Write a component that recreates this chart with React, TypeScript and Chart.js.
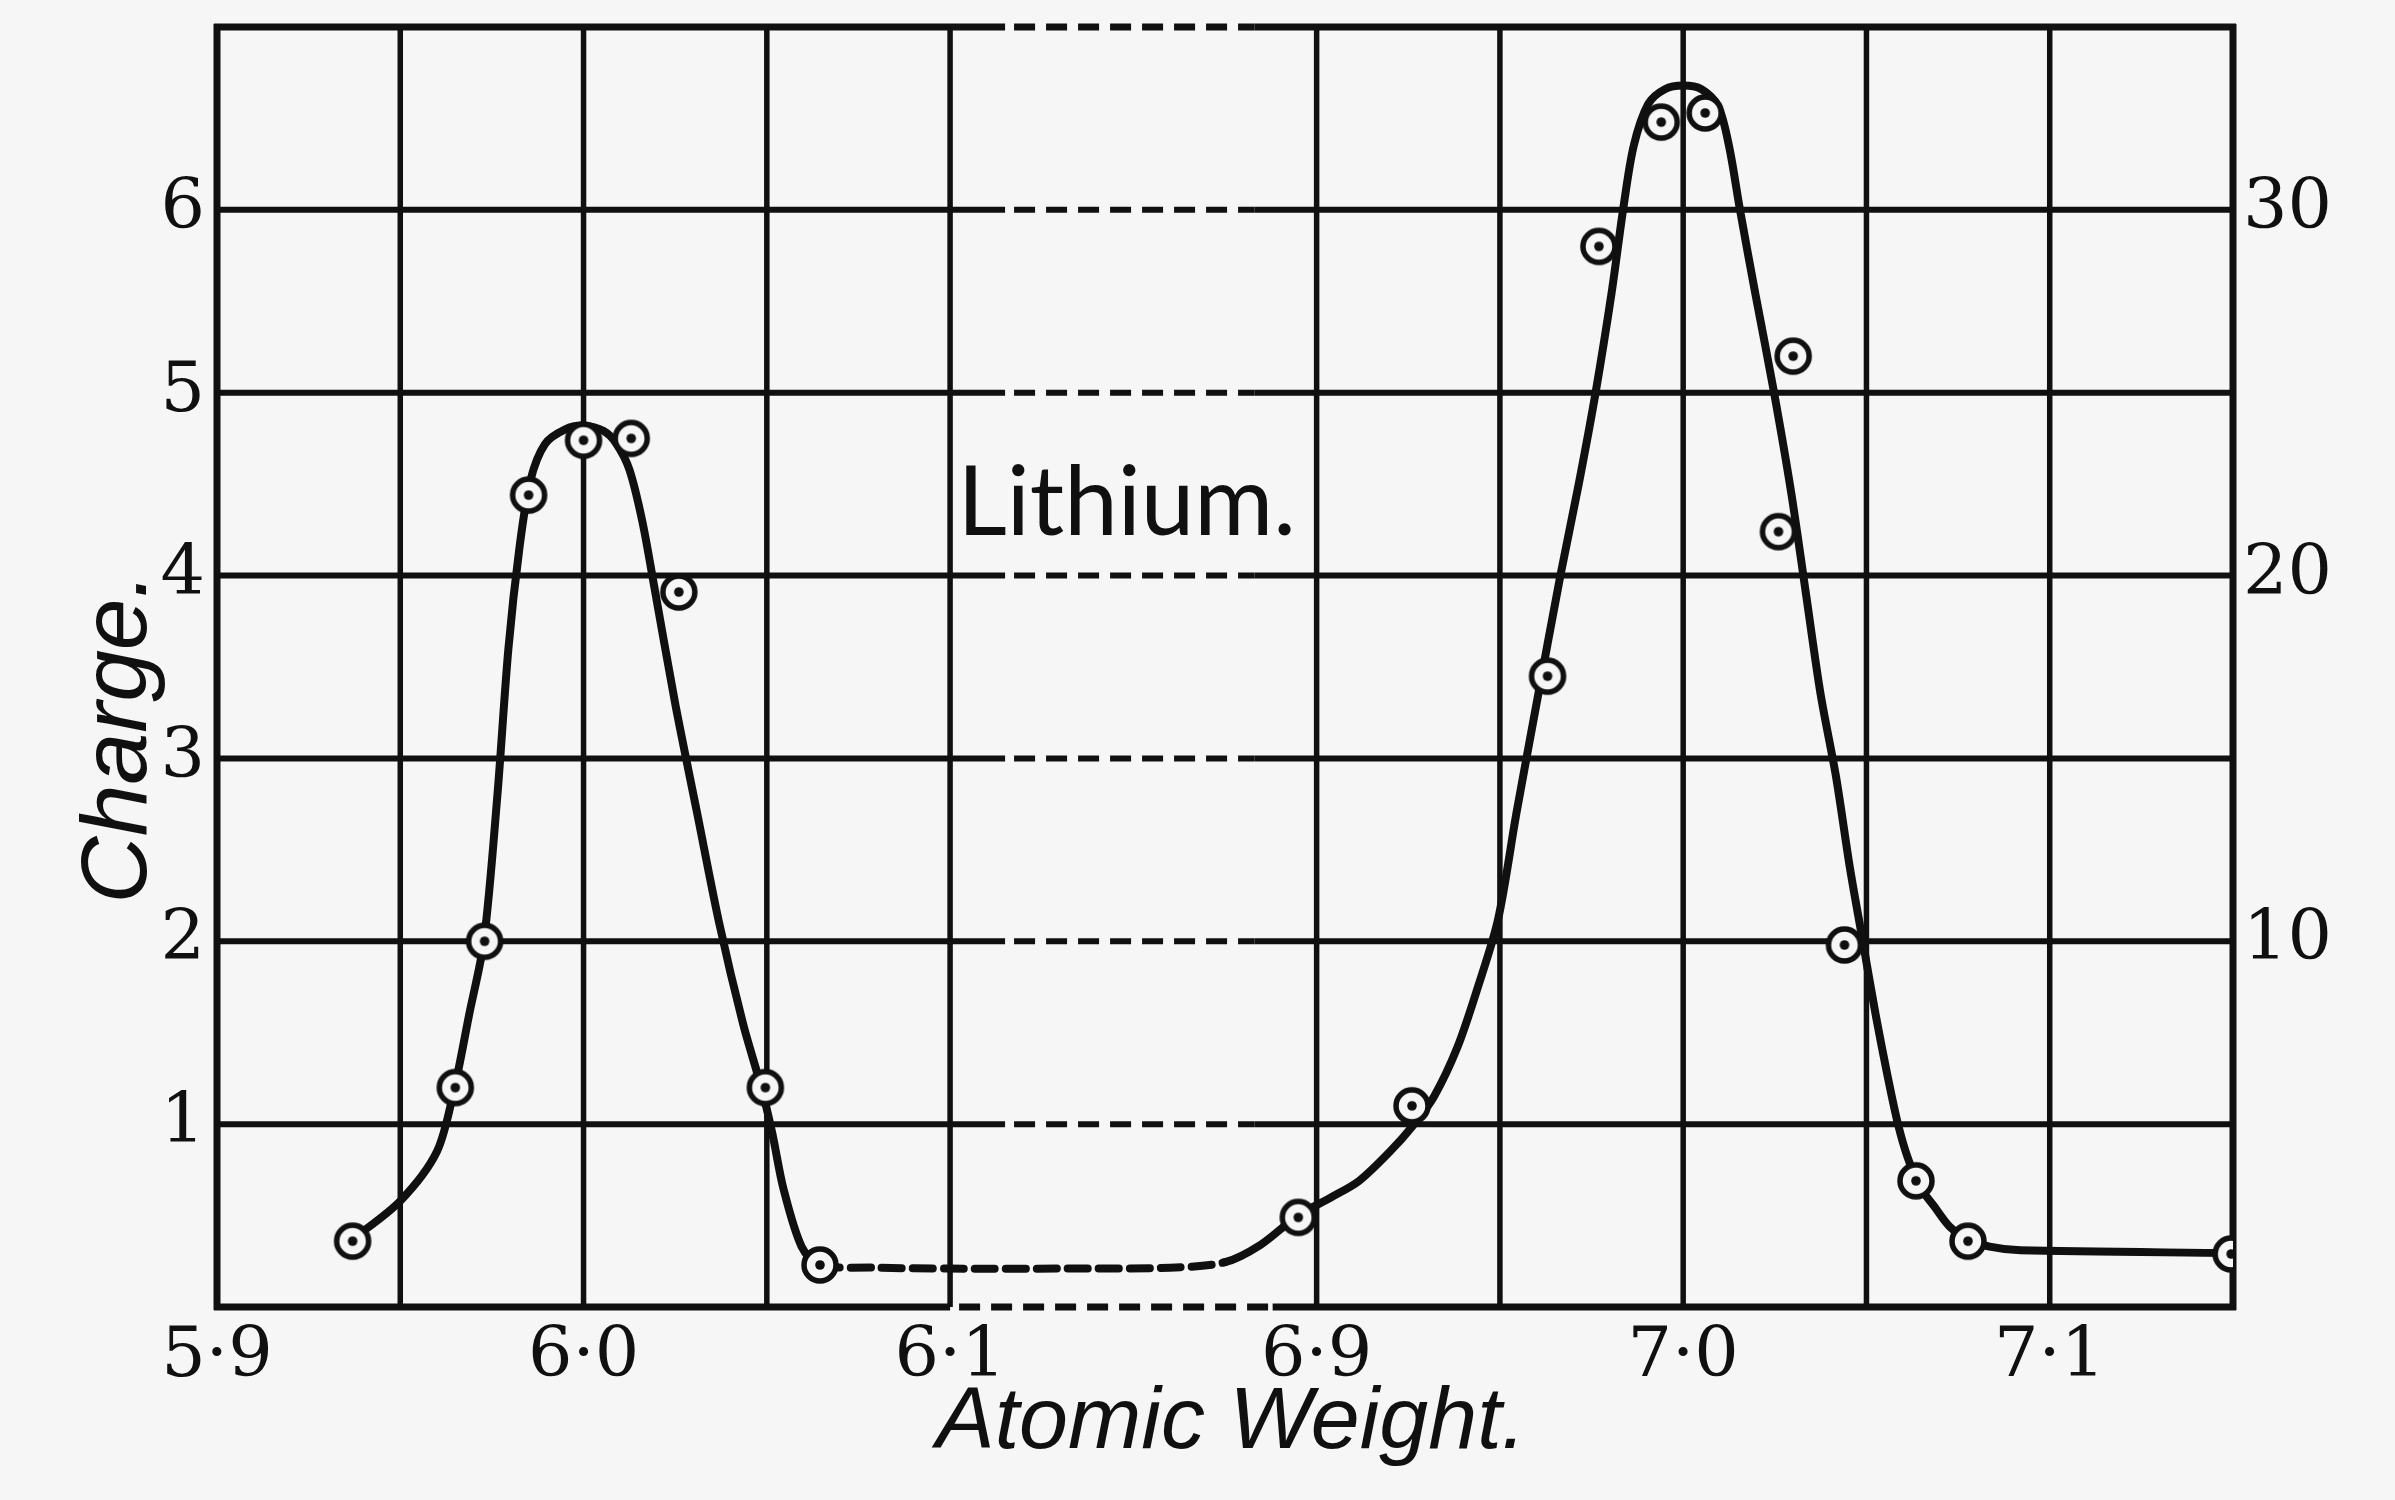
import React, { useEffect, useRef } from "react";
import { Chart, registerables } from "chart.js";

Chart.register(...registerables);

// ---- measured points (atomic weight, charge) ----
const POINT_WEIGHTS = [
  5.937, 5.965, 5.973, 5.985, 6.0, 6.013, 6.026, 6.0496, 6.0645,
  6.895, 6.926, 6.963, 6.977, 6.994, 7.006, 7.026, 7.03, 7.044, 7.0635, 7.0777, 7.1495,
];
const POINT_CHARGES = [
  0.36, 1.2, 2.0, 4.44, 4.74, 4.75, 3.91, 1.2, 0.23,
  0.49, 1.1, 3.45, 5.8, 6.48, 6.53, 4.24, 5.2, 1.98, 0.69, 0.36, 0.29,
];

// ---- traced curve (atomic weight, charge) ----
const CURVE_WEIGHTS = [
  5.937, 5.95, 5.96, 5.9648, 5.9688, 5.9728, 5.9765, 5.9795, 5.9825, 5.9855, 5.9895, 5.995, 6.0,
  6.0055, 6.009, 6.0125, 6.016, 6.0192, 6.025, 6.031, 6.037, 6.0435, 6.0485, 6.0515, 6.0545,
  6.0595, 6.0645, 6.08, 6.1, 6.13, 6.86, 6.875, 6.8847, 6.8949, 6.904, 6.9116, 6.92, 6.9262,
  6.932, 6.9384, 6.944, 6.9495, 6.9545, 6.96, 6.9665, 6.9715, 6.9761, 6.9805, 6.9836, 6.9865,
  6.9905, 6.995, 7.0, 7.005, 7.0095, 7.0125, 7.0155, 7.0197, 7.0248, 7.0295, 7.0335, 7.0375,
  7.0417, 7.0455, 7.049, 7.0525, 7.0559, 7.0586, 7.0612, 7.0645, 7.0685, 7.0727, 7.0777, 7.0836,
  7.092, 7.1495,
];
const CURVE_CHARGES = [
  0.37, 0.58, 0.85, 1.2, 1.6, 2.0, 2.8, 3.6, 4.15, 4.52, 4.72, 4.8, 4.82,
  4.79, 4.72, 4.58, 4.3, 3.95, 3.3, 2.7, 2.1, 1.55, 1.2, 0.95, 0.65,
  0.33, 0.23, 0.215, 0.21, 0.21, 0.215, 0.245, 0.34, 0.5, 0.6, 0.69, 0.85, 0.99,
  1.15, 1.42, 1.75, 2.12, 2.7, 3.3, 4.0, 4.5, 5.0, 5.55, 6.0, 6.35,
  6.58, 6.66, 6.68, 6.66, 6.57, 6.35, 6.0, 5.54, 5.0, 4.45, 3.9, 3.35,
  2.9, 2.4, 2.0, 1.6, 1.25, 1.0, 0.82, 0.66, 0.55, 0.44, 0.37, 0.33,
  0.31, 0.295,
];

// ---- axes ----
const X_TICK_VALUES = [5.9, 6.0, 6.1, 6.9, 7.0, 7.1];
const X_TICK_LABELS = ["5·9", "6·0", "6·1", "6·9", "7·0", "7·1"];
const X_GRID_VALUES = [5.9, 5.95, 6.0, 6.05, 6.1, 6.9, 6.95, 7.0, 7.05, 7.1, 7.15];
const LEFT_TICKS = [1, 2, 3, 4, 5, 6];
const LEFT_GRID = [0, 1, 2, 3, 4, 5, 6, 7];
const RIGHT_TICKS = [10, 20, 30];
const X_MIN = 5.9;
const X_MAX = 7.15;
const Y_MIN = 0;
const Y_MAX = 7;
const Y2_MAX = 35;

// axis break: 6.1 .. 6.9 is squeezed into 0.1 units
const BREAK_FROM = 6.1;
const BREAK_TO = 6.9;
const BREAK_WIDTH = 0.1;
const DASH_CURVE_FROM = 6.0645;
const DASH_CURVE_TO = 6.876;
const DASH_GRID_FROM = 6.115;
const DASH_GRID_TO = 6.883;

function toAxis(w: number): number {
  return w > (BREAK_FROM + BREAK_TO) / 2 ? w - (BREAK_TO - BREAK_FROM) + BREAK_WIDTH : w;
}

const INK = "#101010";
const PAPER = "#f6f6f6";
const TICK_FONT = { family: "'DejaVu Serif', serif", size: 70 };

function makeMarker(): HTMLCanvasElement {
  const c = document.createElement("canvas");
  c.width = 46;
  c.height = 46;
  const g = c.getContext("2d")!;
  g.beginPath();
  g.arc(23, 23, 16, 0, Math.PI * 2);
  g.fillStyle = PAPER;
  g.fill();
  g.lineWidth = 5.5;
  g.strokeStyle = INK;
  g.stroke();
  g.beginPath();
  g.arc(23, 23, 4.8, 0, Math.PI * 2);
  g.fillStyle = INK;
  g.fill();
  return c;
}

const paperPlugin = {
  id: "paper",
  beforeDraw(chart: any) {
    const ctx = chart.ctx;
    ctx.save();
    ctx.fillStyle = PAPER;
    ctx.fillRect(0, 0, chart.width, chart.height);
    ctx.restore();
  },
};

const gridPlugin = {
  id: "brokenGrid",
  beforeDatasetsDraw(chart: any) {
    const ctx = chart.ctx;
    const xs = chart.scales.x;
    const ys = chart.scales.y;
    const area = chart.chartArea;
    ctx.save();
    ctx.strokeStyle = INK;
    ctx.lineCap = "butt";
    // vertical lines
    X_GRID_VALUES.forEach((v, i) => {
      const px = xs.getPixelForValue(toAxis(v));
      const edge = i === 0 || i === X_GRID_VALUES.length - 1;
      ctx.lineWidth = edge ? 7 : 5.5;
      ctx.setLineDash([]);
      ctx.beginPath();
      ctx.moveTo(px, area.top - (edge ? 3 : 0));
      ctx.lineTo(px, area.bottom + (edge ? 3 : 0));
      ctx.stroke();
    });
    // horizontal lines, dashed through the break
    LEFT_GRID.forEach((v) => {
      const py = ys.getPixelForValue(v);
      const edge = v === Y_MIN || v === Y_MAX;
      ctx.lineWidth = edge ? 7 : 6;
      const a = xs.getPixelForValue(toAxis(v === Y_MIN ? BREAK_FROM : DASH_GRID_FROM));
      const b = xs.getPixelForValue(toAxis(v === Y_MIN ? 6.888 : DASH_GRID_TO));
      ctx.setLineDash([]);
      ctx.beginPath();
      ctx.moveTo(area.left - 3, py);
      ctx.lineTo(a, py);
      ctx.moveTo(b, py);
      ctx.lineTo(area.right + 3, py);
      ctx.stroke();
      ctx.setLineDash([21, 11]);
      ctx.beginPath();
      ctx.moveTo(a + 9, py);
      ctx.lineTo(b, py);
      ctx.stroke();
    });
    ctx.restore();
  },
};

const textPlugin = {
  id: "labels",
  afterDraw(chart: any) {
    const ctx = chart.ctx;
    const xs = chart.scales.x;
    const ys = chart.scales.y;
    ctx.save();
    ctx.fillStyle = INK;
    // Lithium.
    ctx.font = "96px Lato, 'DejaVu Sans', sans-serif";
    ctx.textAlign = "left";
    ctx.textBaseline = "alphabetic";
    ctx.fillText("Lithium.", xs.getPixelForValue(6.102), ys.getPixelForValue(4.22));
    // x title
    ctx.font = "italic 88px 'Liberation Sans', sans-serif";
    ctx.textAlign = "center";
    ctx.fillText("Atomic Weight.", 1231, 1448);
    // y title
    ctx.translate(146, 738);
    ctx.rotate(-Math.PI / 2);
    ctx.font = "italic 93px 'Liberation Sans', sans-serif";
    ctx.fillText("Charge.", 0, 0);
    ctx.restore();
  },
};

export default function App() {
  const ref = useRef<HTMLCanvasElement | null>(null);

  useEffect(() => {
    if (!ref.current) return;
    const marker = makeMarker();
    const points = POINT_WEIGHTS.map((w, i) => ({ x: toAxis(w), y: POINT_CHARGES[i] }));
    const curve = CURVE_WEIGHTS.map((w, i) => ({ x: toAxis(w), y: CURVE_CHARGES[i] }));
    const dashFrom = toAxis(DASH_CURVE_FROM) - 1e-6;
    const dashTo = toAxis(DASH_CURVE_TO) + 1e-6;

    const chart = new Chart(ref.current, {
      type: "scatter",
      data: {
        datasets: [
          {
            label: "observations",
            data: points,
            showLine: false,
            pointStyle: marker as any,
            pointRadius: 17,
            pointHoverRadius: 17,
          },
          {
            label: "curve",
            data: curve,
            showLine: true,
            borderColor: INK,
            borderWidth: 8,
            pointRadius: 0,
            pointHoverRadius: 0,
            tension: 0.3,
            borderCapStyle: "round",
            borderJoinStyle: "round",
            segment: {
              borderDash: (c: any) =>
                c.p0.parsed.x >= dashFrom && c.p1.parsed.x <= dashTo ? [20, 11] : undefined,
            },
          } as any,
        ],
      },
      options: {
        responsive: false,
        animation: false,
        devicePixelRatio: 1,
        layout: { padding: { top: 27, left: 0, right: 0, bottom: 0 } },
        plugins: { legend: { display: false }, tooltip: { enabled: false } },
        scales: {
          x: {
            type: "linear",
            min: toAxis(X_MIN),
            max: toAxis(X_MAX),
            grid: { display: false, drawTicks: false },
            border: { display: false },
            afterBuildTicks: (s: any) => {
              s.ticks = X_TICK_VALUES.map((v) => ({ value: toAxis(v) }));
            },
            afterFit: (s: any) => {
              s.height = 193;
              s.paddingLeft = 0;
              s.paddingRight = 0;
            },
            ticks: {
              autoSkip: false,
              maxRotation: 0,
              padding: 9,
              color: INK,
              font: TICK_FONT,
              callback: (_v: any, i: number) => X_TICK_LABELS[i],
            },
          },
          y: {
            type: "linear",
            position: "left",
            min: Y_MIN,
            max: Y_MAX,
            grid: { display: false, drawTicks: false },
            border: { display: false },
            afterBuildTicks: (s: any) => {
              s.ticks = LEFT_TICKS.map((v) => ({ value: v }));
            },
            afterFit: (s: any) => {
              s.width = 217;
              s.paddingTop = 0;
              s.paddingBottom = 0;
            },
            ticks: {
              padding: 12,
              color: INK,
              font: TICK_FONT,
              callback: (v: any) => String(v),
            },
          },
          y2: {
            type: "linear",
            position: "right",
            min: 0,
            max: Y2_MAX,
            grid: { display: false, drawTicks: false },
            border: { display: false },
            afterBuildTicks: (s: any) => {
              s.ticks = RIGHT_TICKS.map((v) => ({ value: v }));
            },
            afterFit: (s: any) => {
              s.width = 162;
              s.paddingTop = 0;
              s.paddingBottom = 0;
            },
            ticks: {
              padding: 10,
              color: INK,
              font: TICK_FONT,
              callback: (v: any) => String(v),
            },
          },
        },
      },
      plugins: [paperPlugin, gridPlugin, textPlugin],
    });
    return () => chart.destroy();
  }, []);

  return (
    <div style={{ position: "absolute", left: 0, top: 0, width: 2395, height: 1500, background: PAPER }}>
      <canvas ref={ref} width={2395} height={1500} style={{ display: "block" }} />
    </div>
  );
}
